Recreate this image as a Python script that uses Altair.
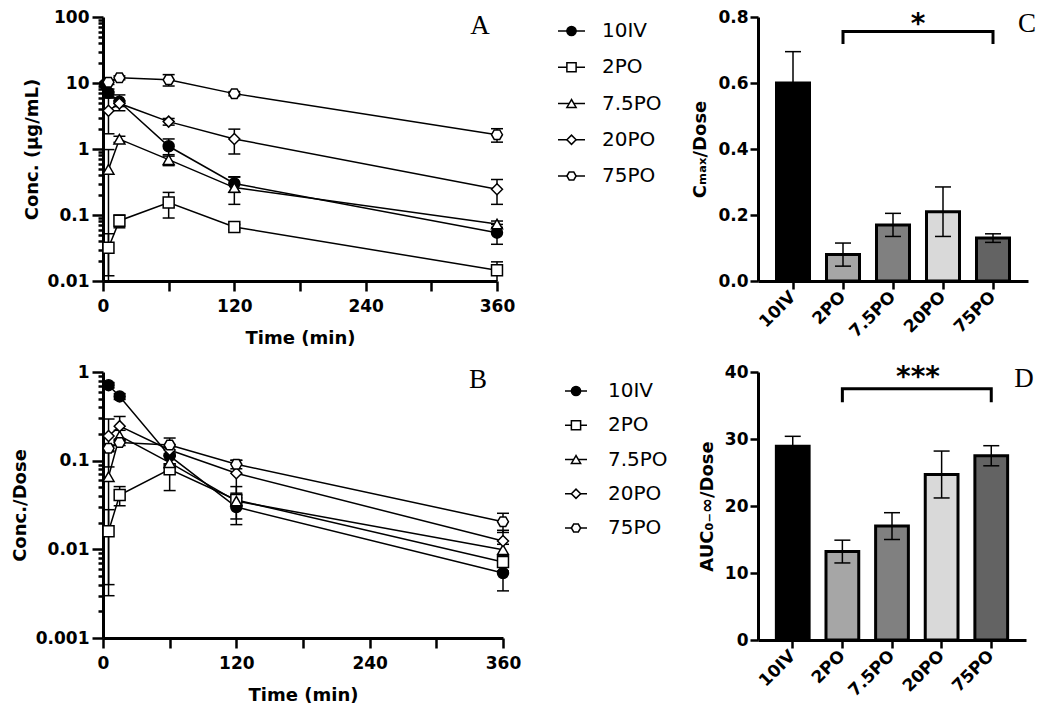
import altair as alt
import pandas as pd

SANS = "DejaVu Sans"
SERIF = "Liberation Serif"

groups = ["10IV", "2PO", "7.5PO", "20PO", "75PO"]

# ---- Panel A: Conc. (ug/mL) ----
time_iv_a = [2, 5, 15, 60, 120, 360]
time_po = [5, 15, 60, 120, 360]
a_10iv = [9.5, 7.1, 5.2, 1.10, 0.30, 0.054]
a_10iv_sd = [0.8, 1.0, 1.4, 0.32, 0.08, 0.018]
a_2po = [0.032, 0.082, 0.155, 0.066, 0.0145]
a_2po_sd = [0.02, 0.018, 0.065, 0.006, 0.005]
a_7po = [0.49, 1.41, 0.69, 0.26, 0.073]
a_7po_sd = [0.49, 0.15, 0.13, 0.115, 0.008]
a_20po = [3.8, 4.9, 2.6, 1.42, 0.245]
a_20po_sd = [2.1, 0.5, 0.3, 0.58, 0.1]
a_75po = [10.3, 12.0, 11.2, 6.9, 1.65]
a_75po_sd = [0.8, 0.8, 2.2, 0.5, 0.38]

# ---- Panel B: Conc./Dose ----
time_iv_b = [5, 15, 60, 120, 360]
b_10iv = [0.71, 0.53, 0.113, 0.030, 0.0054]
b_10iv_sd = [0.05, 0.04, 0.03, 0.008, 0.002]
b_2po = [0.016, 0.041, 0.080, 0.036, 0.0072]
b_2po_sd = [0.012, 0.01, 0.034, 0.005, 0.0015]
b_7po = [0.066, 0.19, 0.095, 0.035, 0.0099]
b_7po_sd = [0.063, 0.03, 0.02, 0.016, 0.0015]
b_20po = [0.19, 0.245, 0.132, 0.072, 0.0124]
b_20po_sd = [0.105, 0.07, 0.02, 0.029, 0.004]
b_75po = [0.138, 0.16, 0.15, 0.091, 0.0205]
b_75po_sd = [0.012, 0.012, 0.03, 0.01, 0.005]

# ---- Panel C: Cmax/Dose ----
c_mean = [0.60, 0.08, 0.17, 0.21, 0.13]
c_sd = [0.095, 0.035, 0.035, 0.075, 0.013]
c_bracket_y = [0.718, 0.756, 0.756, 0.718]
c_star_y = 0.752

# ---- Panel D: AUC/Dose ----
d_mean = [28.9, 13.2, 17.0, 24.7, 27.5]
d_sd = [1.5, 1.7, 2.0, 3.5, 1.5]
d_bracket_y = [35.5, 37.5, 37.5, 35.5]
d_star_y = 37.9

bracket_x = ["2PO", "2PO", "75PO", "75PO"]

HEX = "M-1,0L-0.5,-0.866L0.5,-0.866L1,0L0.5,0.866L-0.5,0.866Z"
shape_range = ["circle", "square", "triangle-up", "diamond", HEX]
fill_range = ["black", "white", "white", "white", "white"]
bar_fills = ["#000000", "#a6a6a6", "#808080", "#d9d9d9", "#636363"]


def long_df(times, means, sds, ymin):
    rows = []
    for g, ts, ms, ss in zip(groups, times, means, sds):
        for t, m, s in zip(ts, ms, ss):
            lo = m - s
            rows.append(dict(group=g, time=t, mean=m, upper=m + s,
                             lower=max(lo, ymin), lowcap=bool(lo > ymin)))
    return pd.DataFrame(rows)


def major_ticks(lo_exp, hi_exp):
    return [float(f"1e{e}") for e in range(lo_exp, hi_exp + 1)]


def minor_ticks(lo_exp, hi_exp):
    return [float(f"{k}e{e}") for e in range(lo_exp, hi_exp) for k in range(2, 10)]


shape_enc = alt.Shape("group:N", scale=alt.Scale(domain=groups, range=shape_range), legend=None)
fill_enc = alt.Fill("group:N", scale=alt.Scale(domain=groups, range=fill_range), legend=None)


def time_panel(df, lo_exp, hi_exp, ytitle, letter, lxy, leg, w, h, tpad):
    xax = alt.Axis(values=[0, 60, 120, 180, 240, 300, 360],
                   labelExpr="datum.value % 120 === 0 ? datum.label : ''",
                   title="Time (min)", tickSize=10, labelPadding=7, titlePadding=15)
    x = alt.X("time:Q", scale=alt.Scale(domain=[0, 360], nice=False, zero=False), axis=xax)
    ysc = alt.Scale(type="log", domain=[float(f"1e{lo_exp}"), float(f"1e{hi_exp}")], nice=False)
    yax = alt.Axis(values=major_ticks(lo_exp, hi_exp), format="~g", tickSize=11,
                   title=ytitle, titlePadding=tpad, labelPadding=3, orient="left")
    yminor = alt.Axis(values=minor_ticks(lo_exp, hi_exp), labels=False, tickSize=5,
                      domain=False, title=None, orient="left")
    base = alt.Chart(df)
    lines = base.mark_line(color="black", strokeWidth=1.5).encode(
        x=x, y=alt.Y("mean:Q", scale=ysc, axis=yax), detail="group:N")
    err = base.mark_rule(color="black", strokeWidth=1.5).encode(
        x=x, y=alt.Y("lower:Q", scale=ysc, axis=yminor), y2="upper:Q")
    capu = base.mark_point(shape="stroke", size=144, color="black", strokeWidth=1.5,
                           opacity=1).encode(x=x, y=alt.Y("upper:Q", scale=ysc, axis=None))
    capl = base.transform_filter("datum.lowcap").mark_point(
        shape="stroke", size=144, color="black", strokeWidth=1.5, opacity=1).encode(
        x=x, y=alt.Y("lower:Q", scale=ysc, axis=None))
    pts = base.mark_point(size=120, filled=True, stroke="black", strokeWidth=1.5,
                          opacity=1).encode(
        x=x, y=alt.Y("mean:Q", scale=ysc, axis=None), shape=shape_enc, fill=fill_enc)
    main = alt.layer(lines, err, capu, capl, pts).resolve_axis(y="independent")

    leg_df = pd.DataFrame({"group": groups, "row": list(range(len(groups)))})
    ly = alt.Y("row:Q", scale=alt.Scale(domain=[0, len(groups) - 1], range=[leg[0], leg[1]],
                                        nice=False, zero=False),
               axis=None)
    lb = alt.Chart(leg_df)
    leg_line = lb.mark_rule(color="black", strokeWidth=1.5).encode(
        x=alt.value(leg[2]), x2=alt.value(leg[3]), y=ly)
    leg_pt = lb.mark_point(size=85, filled=True, stroke="black", strokeWidth=1.5,
                           opacity=1).encode(
        x=alt.value((leg[2] + leg[3]) / 2), y=ly, shape=shape_enc, fill=fill_enc)
    leg_txt = lb.mark_text(align="left", baseline="middle", font=SANS, fontSize=20,
                           color="black").encode(x=alt.value(leg[4]), y=ly, text="group:N")
    legend = alt.layer(leg_line, leg_pt, leg_txt)

    lab = alt.Chart(pd.DataFrame({"t": [letter]})).mark_text(
        font=SERIF, fontSize=27, align="center", baseline="alphabetic", color="black").encode(
        x=alt.value(lxy[0]), y=alt.value(lxy[1]), text="t:N")
    return alt.layer(main, legend, lab).resolve_scale(y="independent").properties(
        width=w, height=h)


def bar_panel(means, sds, ymax, yvals, fmt, ytitle, br_y, stars, star_y, letter, lxy, w, h):
    df = pd.DataFrame({"group": groups, "mean": means, "sd": sds})
    df["lo"] = df["mean"] - df["sd"]
    df["hi"] = df["mean"] + df["sd"]
    xsc = alt.Scale(domain=groups, paddingInner=0.34, paddingOuter=0.37)
    xax = alt.Axis(title=None, labelAngle=315, labelAlign="right", labelBaseline="middle",
                   tickSize=8, labelPadding=5)
    x = alt.X("group:N", scale=xsc, axis=xax, sort=groups)
    ysc = alt.Scale(domain=[0, ymax], nice=False, zero=True)
    yax = alt.Axis(values=yvals, format=fmt, title=ytitle, tickSize=8, labelPadding=2,
                   titlePadding=8)
    base = alt.Chart(df)
    bars = base.mark_bar(stroke="black", strokeWidth=3).encode(
        x=x, y=alt.Y("mean:Q", scale=ysc, axis=yax),
        fill=alt.Fill("group:N", scale=alt.Scale(domain=groups, range=bar_fills), legend=None))
    err = base.mark_rule(color="black", strokeWidth=1.5).encode(
        x=x, y=alt.Y("lo:Q", scale=ysc, axis=yax), y2="hi:Q")
    caph = base.mark_point(shape="stroke", size=256, color="black", strokeWidth=1.5,
                           opacity=1).encode(x=x, y=alt.Y("hi:Q", scale=ysc, axis=yax))
    capl = base.mark_point(shape="stroke", size=256, color="black", strokeWidth=1.5,
                           opacity=1).encode(x=x, y=alt.Y("lo:Q", scale=ysc, axis=yax))
    bdf = pd.DataFrame({"bx": bracket_x, "by": br_y, "o": [0, 1, 2, 3]})
    bracket = alt.Chart(bdf).mark_line(color="black", strokeWidth=3, strokeJoin="miter",
                                        strokeCap="butt").encode(
        x=alt.X("bx:N", scale=xsc, axis=xax, sort=groups),
        y=alt.Y("by:Q", scale=ysc, axis=yax), order="o:Q")
    star = alt.Chart(pd.DataFrame({"s": [stars], "sy": [star_y]})).mark_text(
        font=SANS, fontSize=28, fontWeight="bold", align="center", baseline="alphabetic",
        color="black").encode(x=alt.value(160), y=alt.Y("sy:Q", scale=ysc, axis=yax),
                              text="s:N")
    lab = alt.Chart(pd.DataFrame({"t": [letter]})).mark_text(
        font=SERIF, fontSize=27, align="center", baseline="alphabetic", color="black").encode(
        x=alt.value(lxy[0]), y=alt.value(lxy[1]), text="t:N")
    return alt.layer(bars, err, caph, capl, bracket, star, lab).properties(width=w, height=h)


df_a = long_df([time_iv_a, time_po, time_po, time_po, time_po],
               [a_10iv, a_2po, a_7po, a_20po, a_75po],
               [a_10iv_sd, a_2po_sd, a_7po_sd, a_20po_sd, a_75po_sd], 0.01)
df_b = long_df([time_iv_b, time_po, time_po, time_po, time_po],
               [b_10iv, b_2po, b_7po, b_20po, b_75po],
               [b_10iv_sd, b_2po_sd, b_7po_sd, b_20po_sd, b_75po_sd], 0.001)

A = time_panel(df_a, -2, 2, "Conc. (µg/mL)", "A", (377, 17), (14, 159, 455, 482, 499),
               394, 264, 6)
B = time_panel(df_b, -3, 0, "Conc./Dose", "B", (375, 16), (19, 156, 462, 484, 505),
               400, 266, 6)
C = bar_panel(c_mean, c_sd, 0.8, [0, 0.2, 0.4, 0.6, 0.8], ".1f", "Cₘₐₓ/Dose",
              c_bracket_y, "*", c_star_y, "C", (269, 15), 270, 264)
D = bar_panel(d_mean, d_sd, 40, [0, 10, 20, 30, 40], "d", "AUC₀₋∞/Dose",
              d_bracket_y, "***", d_star_y, "D", (266, 15), 268, 268)

left = alt.concat(A, B, columns=1, spacing=16)
right = alt.concat(C, D, columns=1, spacing=23)

chart = alt.hconcat(left, right, spacing=23).resolve_scale(
    fill="independent", shape="independent").properties(
    padding={"left": 3, "top": 0, "right": 0, "bottom": 0},
    background="white").configure_view(stroke=None).configure_axis(
    domainColor="black", domainWidth=3, tickColor="black", tickWidth=2.5,
    labelColor="black", titleColor="black", labelFont=SANS, titleFont=SANS,
    labelFontSize=17, labelFontWeight="bold", titleFontSize=18, titleFontWeight="bold",
    grid=False, labelFlush=False, labelOverlap=False)

chart.save("out.html", embed_options={"renderer": "svg", "actions": False})
